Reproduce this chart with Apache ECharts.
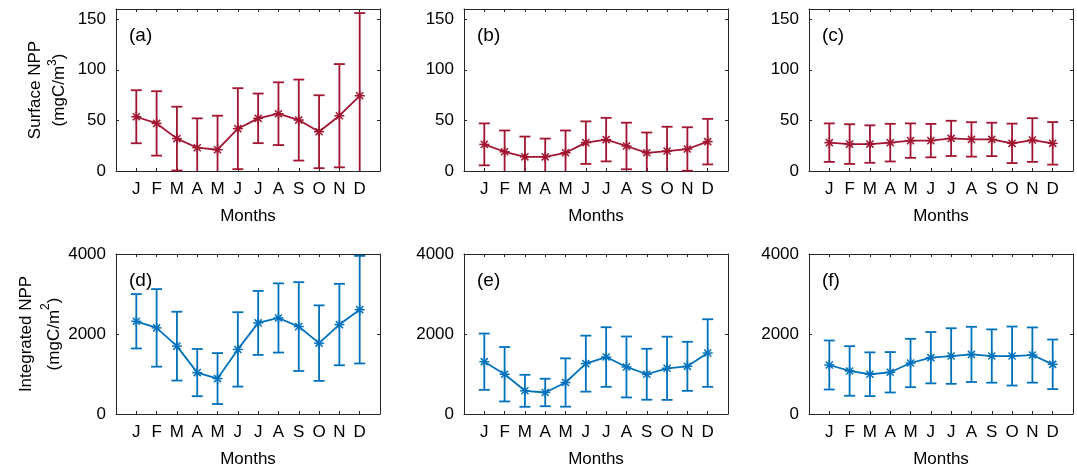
<!DOCTYPE html>
<html>
<head>
<meta charset="utf-8">
<script src="https://cdn.jsdelivr.net/npm/echarts@6/dist/echarts.min.js"></script>
<style>html,body{margin:0;padding:0;background:#fff}#c{width:1077px;height:469px}</style>
</head>
<body>
<div id="c"></div>
<script>
const months = ['J','F','M','A','M','J','J','A','S','O','N','D'];
const panelLabels = ['(a)','(b)','(c)','(d)','(e)','(f)'];
const surfaceTicks = [0, 50, 100, 150];
const integratedTicks = [0, 2000, 4000];

const aMean = [53.6, 47, 32, 23, 21, 41.8, 52, 56.6, 50.3, 38.8, 54.6, 74.3];
const aStd  = [26.2, 31.8, 31.5, 29, 33.6, 40, 24.5, 31, 40, 36, 51, 81.7];
const bMean = [26.3, 19, 14, 14, 18, 28, 31, 24.7, 18, 19.7, 21.7, 29];
const bStd  = [20.7, 21, 20, 18, 22, 21, 21.5, 23, 20, 24, 21.5, 22.5];
const cMean = [28, 26.6, 26.6, 28, 30, 30, 32.2, 31.2, 31.2, 27.3, 30.6, 27.3];
const cStd  = [19, 19.6, 18.5, 18.6, 17, 16.5, 17.4, 17, 16.5, 19.5, 21.6, 21];
const dMean = [2318, 2153, 1697, 1035, 886, 1615, 2277, 2401, 2186, 1772, 2236, 2608];
const dStd  = [680, 970, 860, 590, 637, 930, 800, 865, 1110, 944, 1018, 1345];
const eMean = [1308, 994, 580, 538, 787, 1259, 1424, 1176, 994, 1143, 1192, 1524];
const eStd  = [704, 680, 400, 344, 604, 700, 745, 762, 637, 790, 613, 845];
const fMean = [1225, 1076, 994, 1043, 1275, 1408, 1449, 1490, 1449, 1449, 1474, 1242];
const fStd  = [613, 620, 547, 505, 605, 642, 695, 690, 666, 737, 690, 620];

const RED = '#A2142F', BLUE = '#0072BD', AX = '#262626';
const FONT = 'Liberation Sans, Arial, Helvetica, sans-serif';

const panels = [
  {mean: aMean, std: aStd, color: RED, ticks: surfaceTicks},
  {mean: bMean, std: bStd, color: RED, ticks: surfaceTicks},
  {mean: cMean, std: cStd, color: RED, ticks: surfaceTicks},
  {mean: dMean, std: dStd, color: BLUE, ticks: integratedTicks},
  {mean: eMean, std: eStd, color: BLUE, ticks: integratedTicks},
  {mean: fMean, std: fStd, color: BLUE, ticks: integratedTicks}
];
const lefts = [116, 464, 809];
const tops = [9, 254];
const W = 264, Hs = [162, 161];

const grids = [], xAxes = [], yAxes = [], series = [], graphic = [];

function renderErr(params, api) {
  const x = api.value(0), m = api.value(1), s = api.value(2);
  const cs = params.coordSys;
  const c = api.coord([x, m]);
  const hi = api.coord([x, m + s]);
  const lo = api.coord([x, m - s]);
  const yTop = cs.y, yBot = cs.y + cs.height;
  const col = api.visual('color');
  const st = {stroke: col, lineWidth: 1.8};
  const kids = [];
  const y1 = Math.max(hi[1], yTop), y2 = Math.min(lo[1], yBot);
  kids.push({type: 'line', shape: {x1: c[0], y1: y1, x2: c[0], y2: y2}, style: st});
  const cw = 5.5;
  if (hi[1] >= yTop) kids.push({type: 'line', shape: {x1: c[0]-cw, y1: hi[1], x2: c[0]+cw, y2: hi[1]}, style: st});
  if (lo[1] <= yBot) kids.push({type: 'line', shape: {x1: c[0]-cw, y1: lo[1], x2: c[0]+cw, y2: lo[1]}, style: st});
  const r = 5, d = r * 0.707;
  const ms = {stroke: col, lineWidth: 1.5};
  kids.push({type: 'line', shape: {x1: c[0]-r, y1: c[1], x2: c[0]+r, y2: c[1]}, style: ms});
  kids.push({type: 'line', shape: {x1: c[0], y1: c[1]-r, x2: c[0], y2: c[1]+r}, style: ms});
  kids.push({type: 'line', shape: {x1: c[0]-d, y1: c[1]-d, x2: c[0]+d, y2: c[1]+d}, style: ms});
  kids.push({type: 'line', shape: {x1: c[0]-d, y1: c[1]+d, x2: c[0]+d, y2: c[1]-d}, style: ms});
  return {type: 'group', children: kids};
}

panels.forEach((p, i) => {
  const row = Math.floor(i / 3), col = i % 3;
  const left = lefts[col], top = tops[row], H = Hs[row];
  grids.push({left: left, top: top, width: W, height: H, containLabel: false});
  const ymax = p.ticks[p.ticks.length - 1] === 150 ? 160 : p.ticks[p.ticks.length - 1];
  const yint = p.ticks[1] - p.ticks[0];
  const lineStyle = {show: true, onZero: false, lineStyle: {color: AX, width: 1}};
  xAxes.push({
    type: 'value', gridIndex: i, min: 0, max: 13, interval: 1, position: 'bottom',
    axisLine: lineStyle,
    axisTick: {show: true, inside: true, length: 3, lineStyle: {color: AX}},
    splitLine: {show: false},
    axisLabel: {margin: 10, fontSize: 17, color: '#000', fontFamily: FONT,
      formatter: v => (v >= 1 && v <= 12) ? months[v - 1] : ''},
    name: 'Months', nameLocation: 'middle', nameGap: 37,
    nameTextStyle: {fontSize: 17, color: '#000', fontFamily: FONT}
  });
  yAxes.push({
    type: 'value', gridIndex: i, min: 0, max: ymax, interval: yint, position: 'left',
    axisLine: lineStyle,
    axisTick: {show: true, inside: true, length: 3, lineStyle: {color: AX}},
    splitLine: {show: false},
    axisLabel: {margin: 10, fontSize: 17, color: '#000', fontFamily: FONT,
      formatter: v => p.ticks.indexOf(v) >= 0 ? String(v) : ''}
  });
  series.push({
    type: 'line', xAxisIndex: i, yAxisIndex: i, symbol: 'none',
    data: p.mean.map((m, k) => [k + 1, m]),
    lineStyle: {color: p.color, width: 1.8}, itemStyle: {color: p.color},
    silent: true, animation: false, z: 2
  });
  series.push({
    type: 'custom', xAxisIndex: i, yAxisIndex: i,
    data: p.mean.map((m, k) => [k + 1, m, p.std[k]]),
    itemStyle: {color: p.color}, renderItem: renderErr,
    silent: true, animation: false, z: 3
  });
  graphic.push({type: 'text', left: left + 13, top: top + 17,
    style: {text: panelLabels[i], fontSize: 19, fill: '#000', font: '19px ' + FONT}});
});

// top / right mirror axes for the box and ticks
panels.forEach((p, i) => {
  const row = Math.floor(i / 3);
  const ymax = row === 0 ? 160 : 4000;
  const yint = row === 0 ? 50 : 2000;
  xAxes.push({type: 'value', gridIndex: i, min: 0, max: 13, interval: 1, position: 'top',
    axisLine: {show: true, onZero: false, lineStyle: {color: AX, width: 1}},
    axisTick: {show: true, inside: true, length: 3, lineStyle: {color: AX}},
    axisLabel: {show: false}, splitLine: {show: false}});
  yAxes.push({type: 'value', gridIndex: i, min: 0, max: ymax, interval: yint, position: 'right',
    axisLine: {show: true, onZero: false, lineStyle: {color: AX, width: 1}},
    axisTick: {show: true, inside: true, length: 3, lineStyle: {color: AX}},
    axisLabel: {show: false}, splitLine: {show: false}});
});

// y-axis titles
graphic.push({type: 'text', x: 47, y: 90, rotation: Math.PI / 2,
  style: {text: 'Surface NPP\n(mgC/m{sup|3})', fontSize: 17, fontFamily: FONT, fill: '#000',
    align: 'center', verticalAlign: 'middle', lineHeight: 24,
    rich: {sup: {fontSize: 12, verticalAlign: 'top', fontFamily: FONT, fill: '#000', padding: [0,0,8,0]}}}});
graphic.push({type: 'text', x: 40, y: 334, rotation: Math.PI / 2,
  style: {text: 'Integrated NPP\n(mgC/m{sup|2})', fontSize: 17, fontFamily: FONT, fill: '#000',
    align: 'center', verticalAlign: 'middle', lineHeight: 28,
    rich: {sup: {fontSize: 12, verticalAlign: 'top', fontFamily: FONT, fill: '#000', padding: [0,0,8,0]}}}});

const chart = echarts.init(document.getElementById('c'), null, {renderer: 'canvas'});
chart.setOption({
  animation: false,
  textStyle: {fontFamily: FONT},
  grid: grids, xAxis: xAxes, yAxis: yAxes, series: series, graphic: graphic
});
</script>
</body>
</html>
